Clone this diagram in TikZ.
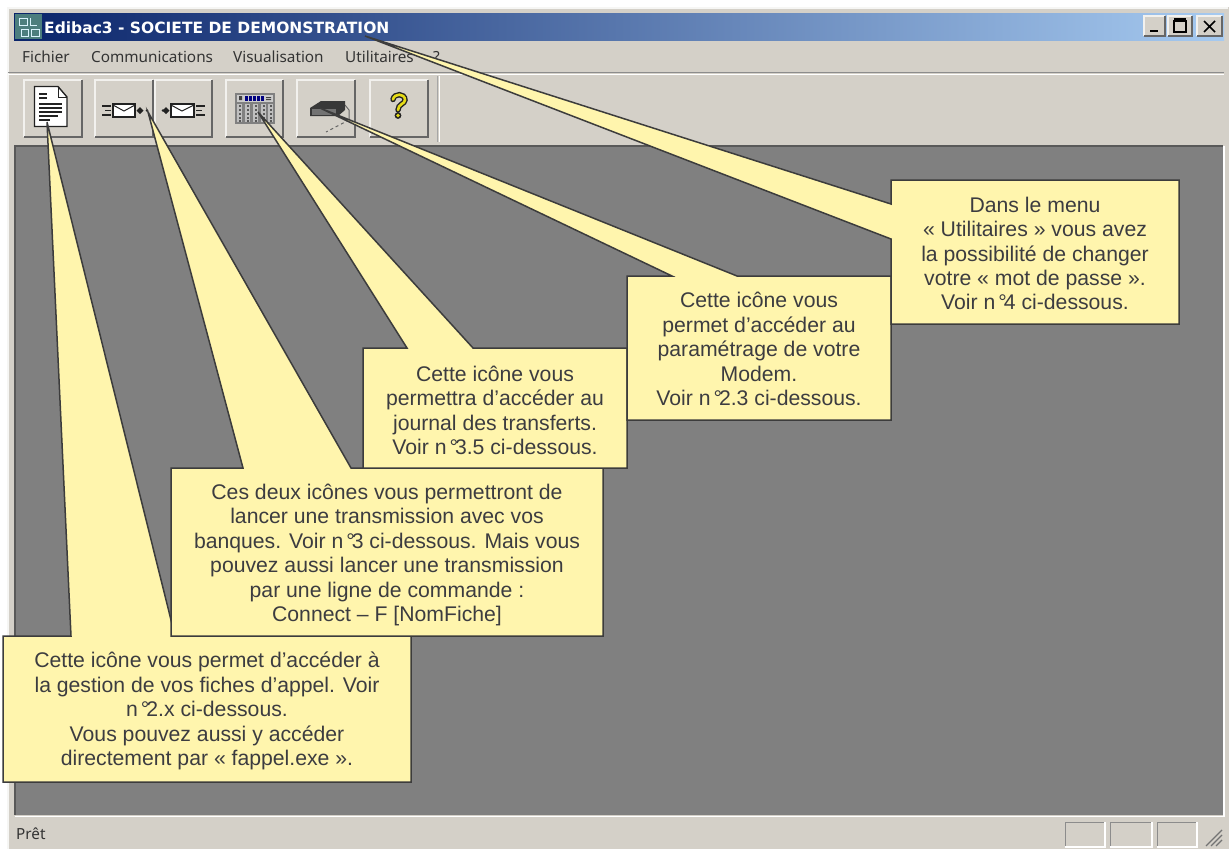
\documentclass[tikz,border=0pt]{standalone}
\usepackage{fontspec}
\setmainfont{Liberation Sans}
\newfontfamily\uifont{Noto Sans}
\newfontfamily\titlefont{DejaVu Sans}
\definecolor{winbg}{HTML}{D4D0C8}
\definecolor{client}{HTML}{808080}
\definecolor{callfill}{HTML}{FFF5AD}
\definecolor{callline}{HTML}{3C3C3C}
\definecolor{calltext}{HTML}{3C3C40}
\definecolor{titledark}{HTML}{0A246A}
\definecolor{titlelight}{HTML}{A6CAF0}
\definecolor{shadowg}{HTML}{666666}
\definecolor{icondark}{HTML}{222222}
\newcommand{\rbtn}[4]{%
  \fill[winbg] (#1,#2) rectangle (#3,#4);
  \draw[white!70!winbg,line width=1.4pt] (#1,#4) -- (#1,#2) -- (#3,#2);
  \draw[shadowg,line width=1.8pt] (#1,#4) -- (#3,#4) -- (#3,#2);
}
\newcommand{\ndeg}{n\kern3pt°\kern-3pt}
\tikzset{
  callout/.style={fill=callfill,draw=callline,line width=1.5pt,line join=miter},
  calltxt/.style={text=calltext,align=center,font=\fontsize{21.2}{24.4}\selectfont,inner sep=0pt},
  menutxt/.style={text=black!80,anchor=base west,font=\uifont\fontsize{15.3}{16}\selectfont,inner sep=0pt},
  iconline/.style={draw=icondark,line width=1.4pt}
}
\begin{document}
\begin{tikzpicture}[x=1pt,y=-1pt]
\useasboundingbox (0,0) rectangle (1229,849);
\fill[white] (0,0) rectangle (1229,849);
% window
\fill[winbg] (7,7) rectangle (1229,849);
\draw[white!80!winbg,line width=1.5pt] (8,849) -- (8,8) -- (1228,8);
% title bar
\shade[left color=titledark,right color=titlelight] (14,13) rectangle (1224,40);
% app icon
\fill[teal!55!black!70] (15,14) rectangle (42,39);
\draw[white!85!cyan,line width=1pt] (19,18) rectangle (27,25) (21,29) rectangle (28,36) (31,29) rectangle (39,36) (30,18) -- (30,25) -- (37,25);
\node[menutxt,text=white,font=\titlefont\bfseries\fontsize{15.5}{16}\selectfont] (title) at (44,33) {Edibac3 - SOCIETE DE DEMONSTRATION};
% window buttons
\rbtn{1144}{16}{1165}{36}
\rbtn{1168}{16}{1192}{36}
\rbtn{1197}{16}{1222}{36}
\draw[black,line width=2.2pt] (1150,31) -- (1158,31);
\draw[black,line width=1.2pt] (1174,21) rectangle (1186,32);
\draw[black,line width=2pt] (1174,19) -- (1186,19);
\draw[black,line width=1.7pt] (1204,21) -- (1215,32) (1215,21) -- (1204,32);
% menu
\node[menutxt] (m1) at (22,62) {Fichier};
\node[menutxt] (m2) at (91,62) {Communications};
\node[menutxt] (m3) at (233,62) {Visualisation};
\node[menutxt] (m4) at (345,62) {Utilitaires};
\node[menutxt] (m5) at (433,62) {?};
\draw[black!45,line width=1pt] (8,72.5) -- (1224,72.5);
\draw[white,line width=1pt] (8,74) -- (1224,74);
% toolbar buttons
\rbtn{24}{80}{82}{137}
\rbtn{95}{80}{153}{137}
\rbtn{155}{80}{212}{137}
\rbtn{226}{80}{283}{137}
\rbtn{297}{80}{355}{137}
\rbtn{370}{80}{428}{137}
\draw[white,line width=1pt] (439,76) -- (439,142);
\draw[black!35,line width=1pt] (437.5,76) -- (437.5,142);
% icon: document
\draw[fill=white,iconline] (34.5,86.5) -- (58,86.5) -- (67,97) -- (67,126.5) -- (34.5,126.5) -- cycle;
\draw[iconline,line width=1pt] (58,86.5) -- (58,97) -- (67,97);
\draw[iconline] (39,94) -- (47,94) (39,98) -- (47,98);
\draw[iconline] (39,104) -- (62,104) (39,108) -- (62,108) (39,112) -- (62,112) (39,116) -- (58,116) (39,120) -- (50,120);
% icon: envelopes
\draw[fill=white,iconline] (113,104) rectangle (135,117);
\draw[iconline,line width=1pt] (113,105) -- (124,111) -- (135,105);
\draw[iconline] (102,106) -- (111,106) (105,110.5) -- (111,110.5) (102,115) -- (111,115);
\fill[icondark] (136.5,110.5) -- (140,107) -- (143.5,110.5) -- (140,114) -- cycle;
\fill[icondark] (147,110.5) circle (1.3);
\draw[fill=white,iconline] (171,104) rectangle (194,117);
\draw[iconline,line width=1pt] (171,105) -- (182,111) -- (194,105);
\draw[iconline] (196,106) -- (205,106) (196,110.5) -- (202,110.5) (196,115) -- (205,115);
\fill[icondark] (162.5,110.5) -- (166,107) -- (169.5,110.5) -- (166,114) -- cycle;
\fill[icondark] (163,110.5) circle (1.3);
% icon: journal grid
\fill[black!50] (235,93) rectangle (275,124);
\fill[white!80!black] (237,95) rectangle (273,101.5);
\foreach \gx in {239,247,255,263,270}{\fill[white!75!black] (\gx-2,103.5) rectangle (\gx+3,122);
  \foreach \gy in {105,109,113,117,120}{\fill[black!65] (\gx,\gy) rectangle (\gx+1.5,\gy+1.5);}}
\foreach \gx in {245,249,253,257,261}{\fill[blue!50!black] (\gx,96) rectangle (\gx+2.5,100.5);}
\fill[black!75] (239,96) rectangle (242,100) (266,97) rectangle (271,98) (266,99) rectangle (271,100);
% icon: modem
\draw[black!60,line width=1pt] (345,105) -- (349,110) -- (349,120);
\draw[black!60,line width=1pt,dashed] (349,120) -- (326,132);
\fill[black!78] (310,108) -- (321,101) -- (345,101) -- (345,110) -- (338,116) -- (310,116) -- cycle;
\fill[black!55] (312,109) -- (336,109) -- (336,115) -- (312,115) -- cycle;
% icon: help
\draw[icondark,line width=5.4pt,line cap=round] (393,99.5) .. controls (394,93) and (405,93) .. (405,100) .. controls (405,104) and (398,104) .. (398,110);
\fill[icondark] (398,115.5) circle (3.4);
\draw[yellow!75!olive!90,line width=2.6pt,line cap=round] (393,99.5) .. controls (394,93) and (405,93) .. (405,100) .. controls (405,104) and (398,104) .. (398,110);
\fill[yellow!75!olive!90] (398,115.5) circle (1.8);
% client area
\fill[client] (15,146) rectangle (1223,815);
\draw[black!65,line width=1.4pt] (15,815) -- (15,146) -- (1223,146);
\draw[white,line width=1.3pt] (15,816.5) -- (1224,816.5) -- (1224,146);
% status bar
\node[menutxt] (st) at (16,839) {Prêt};
\foreach \sa/\sb in {1065/1105,1110/1152,1157/1197}{
  \draw[black!45,line width=1pt] (\sa,846) -- (\sa,822) -- (\sb,822);
  \draw[white,line width=1.2pt] (\sa,847) -- (\sb,847) -- (\sb,822);
}
\foreach \sg in {0,5,10}{\draw[black!55,line width=1.2pt] (1206+\sg,846) -- (1222,830+\sg);}
% callouts: tips
\coordinate (tipA) at (47,122);
\coordinate (tipB) at (148,112);
\coordinate (tipC) at (258,112);
\coordinate (tipD) at (320,108);
\coordinate (tipE) at (365,36);
% callout A
\draw[callout] (3,636) -- (71,636) -- (tipA) -- (175,636) -- (411,636) -- (411,782) -- (3,782) -- cycle;
% callout B
\draw[callout] (171,468) -- (243,468) -- (tipB) -- (351,468) -- (603,468) -- (603,636) -- (171,636) -- cycle;
% callout C
\draw[callout] (363,348) -- (407,348) -- (tipC) -- (473,348) -- (627,348) -- (627,468) -- (363,468) -- cycle;
% callout D
\draw[callout] (627,276) -- (672,276) -- (tipD) -- (737,276) -- (891,276) -- (891,420) -- (627,420) -- cycle;
% callout E
\draw[callout] (891,180) -- (1179,180) -- (1179,324) -- (891,324) -- (891,239) -- (tipE) -- (891,204) -- cycle;
% texts
\node[calltxt] (txtA) at (207,711) {Cette icône vous permet d’accéder à\\la gestion de vos fiches d’appel. Voir\\\ndeg 2.x ci-dessous.\\Vous pouvez aussi y accéder\\directement par « fappel.exe ».};
\node[calltxt] (txtB) at (387,555) {Ces deux icônes vous permettront de\\lancer une transmission avec vos\\banques. Voir \ndeg 3 ci-dessous. Mais vous\\pouvez aussi lancer une transmission\\par une ligne de commande :\\Connect – F [NomFiche]};
\node[calltxt] (txtC) at (495,410.5) {Cette icône vous\\permettra d’accéder au\\journal des transferts.\\Voir \ndeg 3.5 ci-dessous.};
\node[calltxt] (txtD) at (759,349) {Cette icône vous\\permet d’accéder au\\paramétrage de votre\\Modem.\\Voir \ndeg 2.3 ci-dessous.};
\node[calltxt] (txtE) at (1035,253.5) {Dans le menu\\« Utilitaires » vous avez\\la possibilité de changer\\votre « mot de passe ».\\Voir \ndeg 4 ci-dessous.};
\end{tikzpicture}
\end{document}
